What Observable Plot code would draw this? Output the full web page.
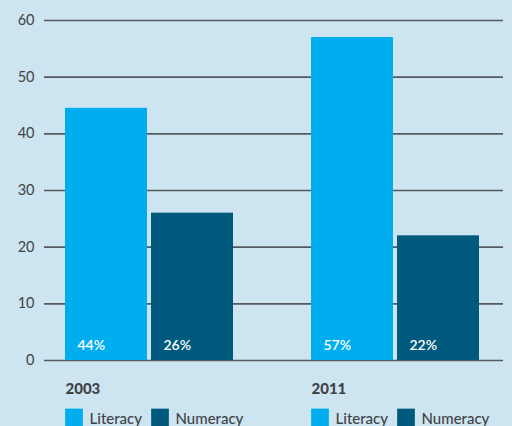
<!DOCTYPE html>
<html>
<head>
<meta charset="utf-8">
<script src="https://cdn.jsdelivr.net/npm/d3@7"></script>
<script src="https://cdn.jsdelivr.net/npm/@observablehq/plot@0.6"></script>
<style>
  html, body { margin: 0; padding: 0; background: #cde4f1; }
  #wrap { position: relative; width: 512px; height: 426px; background: #cde4f1; overflow: hidden; font-family: Lato, "Open Sans", sans-serif; }
  #wrap svg { position: absolute; left: 0; top: 0; }
</style>
</head>
<body>
<div id="wrap"></div>
<script>
const years = ["2003", "2011"];
const series = ["Literacy", "Numeracy"];
const literacy = [44.5, 57];
const numeracy = [26, 22];
const literacyLabels = ["44%", "57%"];
const numeracyLabels = ["26%", "22%"];
const yTicks = [0, 10, 20, 30, 40, 50, 60];
const colors = ["#00aeef", "#005a7d"];

const bars = [];
years.forEach((year, i) => {
  bars.push({year, series: series[0], value: literacy[i], label: literacyLabels[i]});
  bars.push({year, series: series[1], value: numeracy[i], label: numeracyLabels[i]});
});

const W = 512, H = 426;
const common = {width: W, height: H, marginTop: 20, marginBottom: 66,
  style: {background: "transparent", fontFamily: "Lato, 'Open Sans', sans-serif"}};

// Layer 1: y axis and grid lines across the full width
const grid = Plot.plot({
  ...common,
  marginLeft: 44, marginRight: 9,
  y: {domain: [0, 60], ticks: yTicks},
  marks: [
    Plot.ruleY(yTicks, {stroke: "#555a5e", strokeWidth: 1.6}),
    Plot.axisY(yTicks, {tickSize: 0, tickPadding: 10, fontSize: 14.5, fill: "#3f4346", label: null})
  ]
});

// Layer 2: faceted bars, labels, years, legends
const chart = Plot.plot({
  ...common,
  marginLeft: 65, marginRight: 32,
  facet: {data: bars, x: "year", marginTop: 0, marginBottom: 0, marginLeft: 0, marginRight: 0},
  fx: {domain: years, paddingInner: 0.316, paddingOuter: 0, axis: null, label: null},
  x: {domain: series, paddingInner: 0.05, paddingOuter: 0, axis: null},
  y: {domain: [0, 60], axis: null},
  color: {domain: series, range: colors},
  marks: [
    Plot.barY(bars, {x: "series", y: "value", fill: "series"}),
    Plot.text(bars, {x: "series", y: 0, text: "label", fill: "white", fontSize: 14, fontWeight: 600,
      textAnchor: "start", dx: -29, dy: -15}),
    Plot.text(bars, {filter: d => d.series === series[0], frameAnchor: "bottom-left", text: "year",
      fill: "#3f4346", fontSize: 15, fontWeight: 900, textAnchor: "start", dy: 33}),
    Plot.dot(bars, {x: "series", frameAnchor: "bottom", symbol: "square", r: 10, fill: "series",
      dx: -32.5, dy: 57}),
    Plot.text(bars, {x: "series", frameAnchor: "bottom", text: "series", fill: "#3f4346",
      fontSize: 15, fontWeight: 500, textAnchor: "start", dx: -17, dy: 63})
  ]
});

const wrap = document.getElementById("wrap");
wrap.appendChild(grid);
wrap.appendChild(chart);
</script>
</body>
</html>
